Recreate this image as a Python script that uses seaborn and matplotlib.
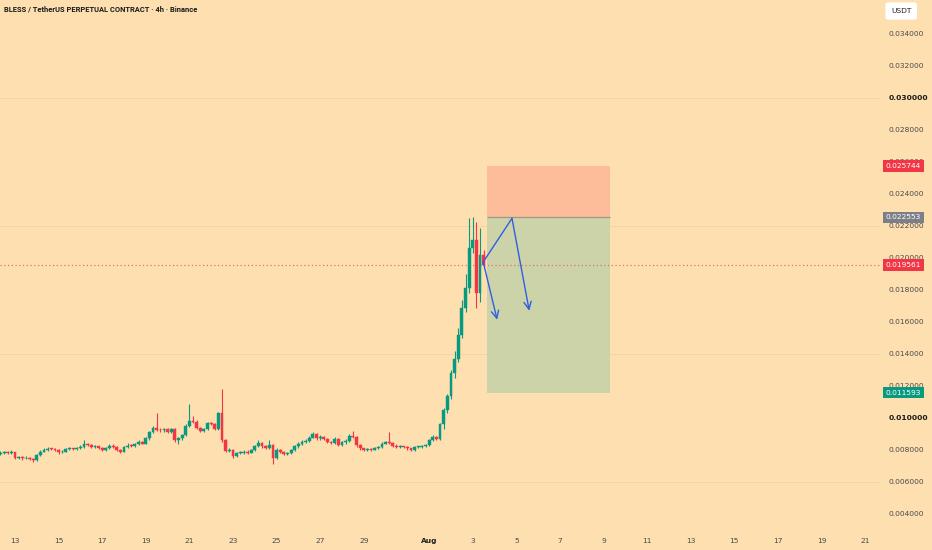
import numpy as np
import pandas as pd
import seaborn as sns
import matplotlib
matplotlib.use("Agg")
import matplotlib.pyplot as plt
import matplotlib.dates as mdates
import matplotlib.transforms as mtransforms
from matplotlib.patches import Rectangle

# 4h candles, BLESS/USDT perp
first_time = "2025-07-12 08:00"
first_open = 0.00778
closes = [
    0.00780, 0.00785, 0.00780, 0.00785, 0.00752, 0.00755, 0.00748, 0.00750, 0.00742, 0.00735,
    0.00770, 0.00790, 0.00800, 0.00808, 0.00805, 0.00800, 0.00785, 0.00790, 0.00808, 0.00810,
    0.00805, 0.00810, 0.00820, 0.00838, 0.00830, 0.00820, 0.00822, 0.00812, 0.00800, 0.00810,
    0.00828, 0.00820, 0.00802, 0.00790, 0.00818, 0.00828, 0.00826, 0.00835, 0.00850, 0.00840,
    0.00872, 0.00910, 0.00940, 0.00928, 0.00922, 0.00930, 0.00912, 0.00930, 0.00862, 0.00872,
    0.00892, 0.00950, 0.00980, 0.00978, 0.00940, 0.00920, 0.00930, 0.00970, 0.00962, 0.00930,
    0.01030, 0.00860, 0.00792, 0.00802, 0.00762, 0.00780, 0.00782, 0.00790, 0.00784, 0.00800,
    0.00822, 0.00842, 0.00822, 0.00812, 0.00832, 0.00752, 0.00802, 0.00790, 0.00775, 0.00780,
    0.00800, 0.00822, 0.00838, 0.00850, 0.00858, 0.00878, 0.00900, 0.00872, 0.00880, 0.00868,
    0.00850, 0.00842, 0.00870, 0.00832, 0.00848, 0.00858, 0.00890, 0.00880, 0.00830, 0.00810,
    0.00800, 0.00808, 0.00802, 0.00810, 0.00820, 0.00840, 0.00848, 0.00842, 0.00828, 0.00820,
    0.00822, 0.00818, 0.00810, 0.00800, 0.00818, 0.00820, 0.00822, 0.00830, 0.00860, 0.00880,
    0.00870, 0.00960, 0.01050, 0.01140, 0.01280, 0.01370, 0.01520, 0.01690, 0.01810, 0.02060,
    0.02110, 0.01780, 0.02020, 0.01956,
]
highs = [
    0.00792, 0.00795, 0.00792, 0.00800, 0.00790, 0.00765, 0.00762, 0.00760, 0.00755, 0.00748,
    0.00778, 0.00800, 0.00815, 0.00818, 0.00815, 0.00812, 0.00805, 0.00800, 0.00815, 0.00818,
    0.00815, 0.00818, 0.00830, 0.00862, 0.00845, 0.00835, 0.00832, 0.00828, 0.00818, 0.00818,
    0.00840, 0.00835, 0.00825, 0.00808, 0.00825, 0.00842, 0.00838, 0.00845, 0.00860, 0.00858,
    0.00880, 0.00920, 0.00950, 0.01030, 0.00935, 0.00940, 0.00938, 0.00938, 0.00935, 0.00880,
    0.00900, 0.00960, 0.01090, 0.01010, 0.00985, 0.00945, 0.00938, 0.00978, 0.00978, 0.00968,
    0.01040, 0.01180, 0.00868, 0.00812, 0.00808, 0.00790, 0.00795, 0.00800, 0.00798, 0.00808,
    0.00830, 0.00860, 0.00848, 0.00830, 0.00860, 0.00838, 0.00810, 0.00808, 0.00795, 0.00790,
    0.00808, 0.00830, 0.00848, 0.00860, 0.00868, 0.00888, 0.00915, 0.00905, 0.00892, 0.00888,
    0.00875, 0.00858, 0.00880, 0.00875, 0.00858, 0.00870, 0.00900, 0.00920, 0.00885, 0.00835,
    0.00815, 0.00815, 0.00812, 0.00818, 0.00828, 0.00848, 0.00858, 0.00910, 0.00848, 0.00835,
    0.00830, 0.00828, 0.00825, 0.00815, 0.00825, 0.00828, 0.00830, 0.00840, 0.00868, 0.00895,
    0.00888, 0.00968, 0.01060, 0.01150, 0.01300, 0.01420, 0.01560, 0.01740, 0.01900, 0.02250,
    0.02256, 0.02225, 0.02190, 0.02050,
]
lows = [
    0.00770, 0.00775, 0.00772, 0.00775, 0.00745, 0.00745, 0.00740, 0.00742, 0.00735, 0.00728,
    0.00730, 0.00765, 0.00785, 0.00795, 0.00798, 0.00795, 0.00778, 0.00780, 0.00785, 0.00802,
    0.00798, 0.00800, 0.00805, 0.00815, 0.00825, 0.00815, 0.00812, 0.00805, 0.00792, 0.00795,
    0.00805, 0.00812, 0.00795, 0.00782, 0.00785, 0.00812, 0.00818, 0.00820, 0.00830, 0.00835,
    0.00835, 0.00865, 0.00905, 0.00920, 0.00915, 0.00915, 0.00905, 0.00905, 0.00850, 0.00840,
    0.00865, 0.00888, 0.00945, 0.00970, 0.00932, 0.00912, 0.00915, 0.00925, 0.00955, 0.00922,
    0.00925, 0.00850, 0.00785, 0.00785, 0.00752, 0.00755, 0.00775, 0.00775, 0.00778, 0.00780,
    0.00795, 0.00818, 0.00815, 0.00805, 0.00808, 0.00712, 0.00745, 0.00782, 0.00768, 0.00770,
    0.00775, 0.00795, 0.00815, 0.00832, 0.00845, 0.00852, 0.00872, 0.00865, 0.00865, 0.00860,
    0.00842, 0.00835, 0.00838, 0.00825, 0.00825, 0.00840, 0.00852, 0.00872, 0.00820, 0.00802,
    0.00795, 0.00795, 0.00795, 0.00798, 0.00805, 0.00815, 0.00835, 0.00835, 0.00820, 0.00812,
    0.00815, 0.00810, 0.00802, 0.00795, 0.00795, 0.00812, 0.00815, 0.00818, 0.00825, 0.00855,
    0.00862, 0.00865, 0.00930, 0.01030, 0.01120, 0.01250, 0.01350, 0.01500, 0.01660, 0.01780,
    0.02030, 0.01690, 0.01725, 0.01940,
]

# short position tool
stop_price = 0.025744
entry_price = 0.022553
target_price = 0.011593
last_price = 0.019561
box_from = "2025-08-03 15:40"
box_to = "2025-08-09 07:00"

# hand-drawn blue arrows
path_times = ["2025-08-03 11:30", "2025-08-04 19:10", "2025-08-05 14:10"]
path_prices = [0.01975, 0.02248, 0.01670]
short_arrow_times = ["2025-08-03 11:30", "2025-08-04 02:50"]
short_arrow_prices = [0.01975, 0.01614]

y_ticks = [0.004, 0.006, 0.008, 0.010, 0.012, 0.014, 0.016, 0.018, 0.020,
           0.022, 0.024, 0.026, 0.028, 0.030, 0.032, 0.034]
bold_ticks = [0.010, 0.030]
grid_levels = [0.006, 0.014, 0.022, 0.030]

BG = "#FEDFB0"
UP = "#089981"
DOWN = "#F23645"

sns.set_theme(style="white")
plt.rcParams["font.family"] = ["DejaVu Sans"]

times = pd.date_range(first_time, periods=len(closes), freq="4h")
df = pd.DataFrame({"t": mdates.date2num(times.to_pydatetime()),
                   "close": closes, "high": highs, "low": lows})
df["open"] = [first_open] + closes[:-1]
df["up"] = df["close"] >= df["open"]

fig = plt.figure(figsize=(9.32, 5.5), dpi=100, facecolor=BG)
ax = fig.add_axes([0, 22 / 550, 880 / 932, 528 / 550], facecolor=BG)

for g in grid_levels:
    ax.axhline(g, color="#F2D3A3", lw=0.6, zorder=0)

w = 4 / 24 * 0.78
for up, sub in df.groupby("up"):
    col = UP if up else DOWN
    ax.vlines(sub["t"], sub["low"], sub["high"], color=col, lw=0.8, zorder=2)
    bottom = np.minimum(sub["open"], sub["close"])
    height = np.maximum(np.abs(sub["close"] - sub["open"]), 0.00005)
    ax.bar(sub["t"], height, bottom=bottom, width=w, color=col, lw=0.3,
           edgecolor=col, zorder=3)

# position boxes
x0 = mdates.date2num(pd.Timestamp(box_from))
x1 = mdates.date2num(pd.Timestamp(box_to))
ax.add_patch(Rectangle((x0, entry_price), x1 - x0, stop_price - entry_price,
                       facecolor="#FDBC9A", edgecolor="none", zorder=1))
ax.add_patch(Rectangle((x0, target_price), x1 - x0, entry_price - target_price,
                       facecolor="#CDD3A8", edgecolor="none", zorder=1))
ax.hlines(entry_price, x0, x1, color="#9C9A86", lw=0.9, zorder=1.5)

ax.axhline(last_price, color="#E9705F", lw=0.9, ls=(0, (1, 2)), zorder=1.8)

# arrows
blue = "#2E5FE3"
pt = mdates.date2num(pd.to_datetime(path_times).to_pydatetime())
st = mdates.date2num(pd.to_datetime(short_arrow_times).to_pydatetime())
sns.lineplot(x=pt[:2], y=path_prices[:2], ax=ax, color=blue, lw=1.0,
             sort=False, zorder=4)
ax.annotate("", xy=(pt[2], path_prices[2]), xytext=(pt[1], path_prices[1]),
            arrowprops=dict(arrowstyle="->,head_length=0.45,head_width=0.22",
                            color=blue, lw=1.0, shrinkA=0, shrinkB=0), zorder=4)
ax.annotate("", xy=(st[1], short_arrow_prices[1]), xytext=(st[0], short_arrow_prices[0]),
            arrowprops=dict(arrowstyle="->,head_length=0.45,head_width=0.22",
                            color=blue, lw=1.0, shrinkA=0, shrinkB=0), zorder=4)

# axes ranges
ax.set_xlim(mdates.date2num(pd.Timestamp("2025-07-12 07:30")),
            mdates.date2num(pd.Timestamp("2025-08-21 16:20")))
ax.set_ylim(0.003125, 0.036125)
for s in ax.spines.values():
    s.set_visible(False)

# x ticks
tick_days = list(pd.date_range("2025-07-13", "2025-07-29", freq="2D")) + \
            list(pd.date_range("2025-08-01", "2025-08-01")) + \
            list(pd.date_range("2025-08-03", "2025-08-21", freq="2D"))
ax.set_xticks(mdates.date2num([d.to_pydatetime() for d in tick_days]))
ax.set_xticklabels(["Aug" if (d.day == 1) else str(d.day) for d in tick_days])
ax.tick_params(axis="x", length=0, pad=7, labelsize=5.4, labelcolor="#4a4a4a")
for lab, d in zip(ax.get_xticklabels(), tick_days):
    if d.day == 1:
        lab.set_fontweight("bold")
        lab.set_color("#222222")

# y ticks on the right
ax.yaxis.tick_right()
ax.set_yticks(y_ticks)
ax.set_yticklabels([f"{v:.6f}" for v in y_ticks])
ax.tick_params(axis="y", length=0, pad=6, labelsize=5.4, labelcolor="#4a4a4a")
for lab, v in zip(ax.get_yticklabels(), y_ticks):
    if any(abs(v - b) < 1e-9 for b in bold_ticks):
        lab.set_fontweight("bold")
        lab.set_color("#1a1a1a")

# price tags on the scale
tr = mtransforms.blended_transform_factory(ax.transAxes, ax.transData)
for price, col in [(stop_price, DOWN), (entry_price, "#7C7F88"),
                   (last_price, DOWN), (target_price, UP)]:
    ax.text(1.0065, price, f"{price:.6f}", transform=tr, ha="left", va="center",
            fontsize=5.4, color="white", clip_on=False, zorder=6,
            bbox=dict(boxstyle="square,pad=0.35", facecolor=col, edgecolor="none"))

fig.text(4 / 932, 1 - 10 / 550, "BLESS / TetherUS PERPETUAL CONTRACT · 4h · Binance",
         fontsize=5.4, fontweight="bold", color="#1a1a1a", va="center", ha="left",
         family=["Roboto", "DejaVu Sans"])
fig.text(891 / 932, 1 - 11 / 550, "USDT", fontsize=5.4, color="#222222",
         va="center", ha="left",
         bbox=dict(boxstyle="round,pad=0.75,rounding_size=0.35", facecolor="white",
                   edgecolor="none"))

fig.savefig("out.png", dpi=100, facecolor=BG)
